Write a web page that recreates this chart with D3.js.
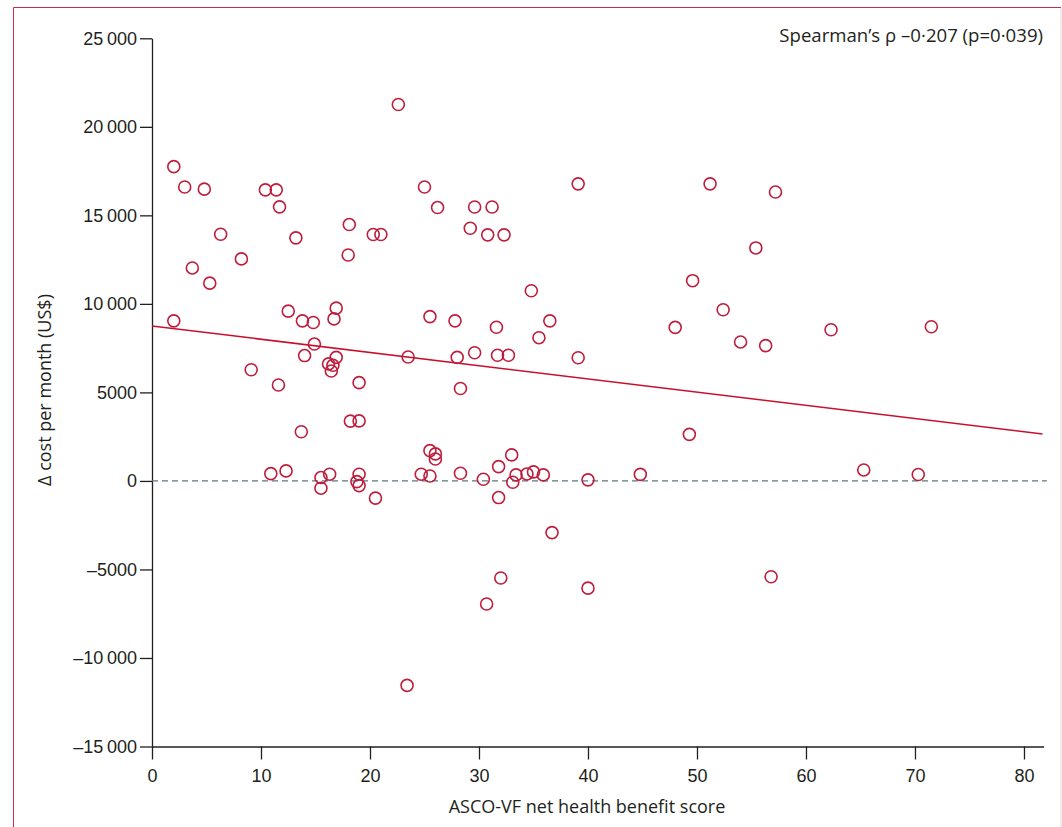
<!DOCTYPE html>
<html>
<head>
<meta charset="utf-8">
<script src="https://cdn.jsdelivr.net/npm/d3@7"></script>
<style>
  body { margin: 0; background: #fff; }
  svg { display: block; font-family: "Open Sans", sans-serif; }
  .axis text { font-size: 18px; fill: #231f20; }
  .axis path, .axis line { stroke: #231f20; stroke-width: 1.3; }
</style>
</head>
<body>
<div id="chart"></div>
<script>
// ASCO-VF score vs change in monthly cost, one point per drug
const score = [
  2.0, 3.0, 4.8, 10.4, 11.4, 11.7, 6.3, 13.2, 3.7, 8.2,
  5.3, 2.0, 12.5, 13.8, 14.8, 14.9, 16.9, 16.7, 14.0, 16.9,
  9.1, 11.6, 16.2, 16.6, 16.45, 19.0, 13.7, 18.2, 19.0, 18.1,
  18.0, 20.3, 21.0, 22.6, 25.0, 26.2, 29.2, 29.6, 31.2, 30.8,
  32.3, 34.8, 25.5, 27.8, 31.6, 36.5, 35.5, 23.5, 28.0, 29.6,
  31.7, 32.7, 39.1, 28.3, 39.1, 51.2, 57.2, 55.4, 49.6, 52.4,
  48.0, 54.0, 56.3, 62.3, 71.5, 49.3, 65.3, 70.3, 56.8, 40.0,
  30.7, 32.0, 36.7, 23.4, 44.8, 40.0, 20.5, 10.9, 12.3, 15.5,
  15.5, 16.3, 19.0, 18.8, 19.0, 24.7, 25.5, 25.5, 26.0, 26.0,
  28.3, 30.4, 31.8, 31.8, 33.0, 33.4, 33.1, 34.4, 35.0, 35.9
];
const deltaCost = [
  17750, 16600, 16480, 16440, 16440, 15480, 13930, 13730, 12030, 12540,
  11170, 9040, 9590, 9040, 8950, 7730, 9760, 9150, 7080, 6980,
  6280, 5420, 6610, 6530, 6210, 5550, 2780, 3380, 3390, 14480,
  12760, 13920, 13920, 21260, 16600, 15440, 14270, 15470, 15470, 13900,
  13900, 10740, 9280, 9040, 8680, 9040, 8090, 7000, 6980, 7240,
  7100, 7100, 6960, 5220, 16780, 16780, 16320, 13160, 11310, 9670,
  8670, 7850, 7640, 8540, 8710, 2630, 620, 360, -5410, -6055,
  -6950, -5480, -2920, -11550, 370, 60, -970, 410, 565, 190,
  -410, 380, 380, -40, -265, 380, 280, 1710, 1525, 1240,
  435, 96, 810, -940, 1470, 340, -75, 395, 510, 340
];

// fitted line end points
const trendX = [0, 81.7];
const trendY = [8750, 2650];

const xTicks = [0, 10, 20, 30, 40, 50, 60, 70, 80];
const yTicks = [-15000, -10000, -5000, 0, 5000, 10000, 15000, 20000, 25000];

const statText = "Spearman\u2019s \u03c1 \u20130\u00b7207 (p=0\u00b7039)";
const xTitle = "ASCO-VF net health benefit score";
const yTitle = "\u0394 cost per month (US$)";

const width = 1062, height = 827;
const red = "#be1e3c";

const svg = d3.select("#chart").append("svg")
    .attr("width", width)
    .attr("height", height);

// frame
svg.append("path")
    .attr("d", "M13.5,830 V7.5 H1061")
    .attr("fill", "none")
    .attr("stroke", "#d0284a")
    .attr("stroke-width", 1);
svg.append("line")
    .attr("x1", 1061).attr("x2", 1061)
    .attr("y1", 8).attr("y2", 827)
    .attr("stroke", "#efe3e5")
    .attr("stroke-width", 1.5);

const x = d3.scaleLinear().domain([0, 81.8]).range([152, 1043.6]);
const y = d3.scaleLinear().domain([-15000, 25000]).range([746.5, 38.3]);

// thousands with a thin space, only for 5+ digit numbers
const fmt = v => {
    const a = Math.abs(v);
    let s = String(a);
    if (a >= 10000) s = s.slice(0, -3) + "\u2009" + s.slice(-3);
    return (v < 0 ? "\u2013" : "") + s;
};

svg.append("g")
    .attr("class", "axis")
    .attr("transform", `translate(0,${y(-15000)})`)
    .call(d3.axisBottom(x).tickValues(xTicks).tickSize(13).tickSizeOuter(0).tickPadding(10));

svg.append("g")
    .attr("class", "axis")
    .attr("transform", `translate(${x(0)},0)`)
    .call(d3.axisLeft(y).tickValues(yTicks).tickFormat(fmt).tickSize(12).tickSizeOuter(0).tickPadding(3));

// zero reference
svg.append("line")
    .attr("x1", x(0)).attr("x2", x(82.1))
    .attr("y1", y(0)).attr("y2", y(0))
    .attr("stroke", "#5f7681")
    .attr("stroke-width", 1.2)
    .attr("stroke-dasharray", "6,4");

// fitted line
svg.append("line")
    .attr("x1", x(trendX[0])).attr("x2", x(trendX[1]))
    .attr("y1", y(trendY[0])).attr("y2", y(trendY[1]))
    .attr("stroke", "#c8102e")
    .attr("stroke-width", 1.5);

svg.append("g")
    .selectAll("circle")
    .data(score.map((s, i) => ({s, c: deltaCost[i]})))
    .join("circle")
    .attr("cx", d => x(d.s))
    .attr("cy", d => y(d.c))
    .attr("r", 6)
    .attr("fill", "none")
    .attr("stroke", red)
    .attr("stroke-width", 1.6);

svg.append("text")
    .attr("x", 1043)
    .attr("y", 41.5)
    .attr("text-anchor", "end")
    .attr("font-size", 18.6)
    .attr("fill", "#231f20")
    .text(statText);

svg.append("text")
    .attr("x", 587)
    .attr("y", 813)
    .attr("text-anchor", "middle")
    .attr("font-size", 18)
    .attr("fill", "#231f20")
    .text(xTitle);

svg.append("text")
    .attr("transform", "translate(51,390) rotate(-90)")
    .attr("text-anchor", "middle")
    .attr("font-size", 18)
    .attr("fill", "#231f20")
    .text(yTitle);
</script>
</body>
</html>
